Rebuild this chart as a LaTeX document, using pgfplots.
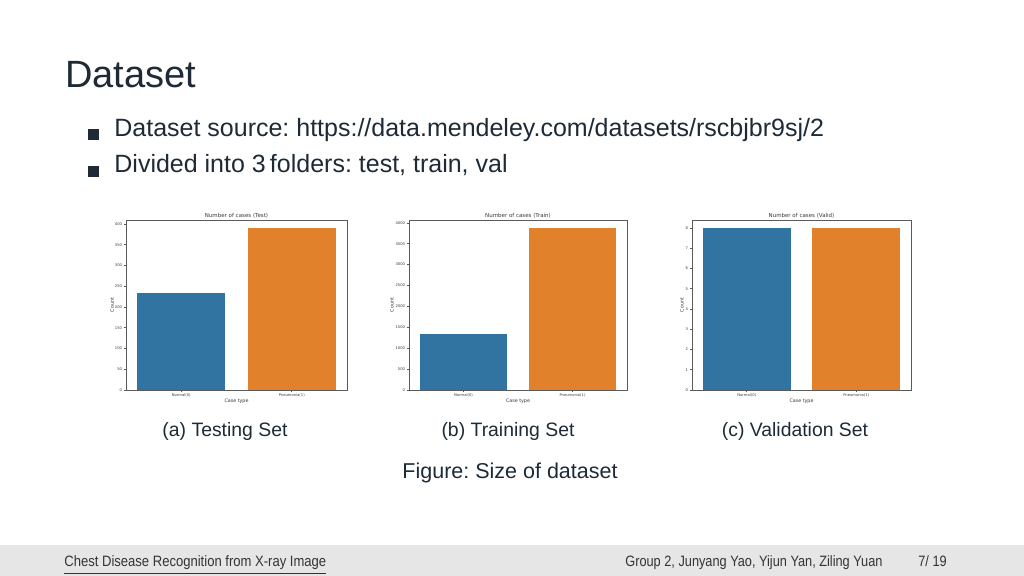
\documentclass[border=0pt]{standalone}
\usepackage{fontspec}
\setmainfont{Liberation Sans}
\newfontfamily\chartfont{DejaVu Sans}
\usepackage{graphicx}
\usepackage{pgfplots}
\pgfplotsset{compat=1.18}

\definecolor{sbblue}{HTML}{3274A1}
\definecolor{sborange}{HTML}{E1812C}
\definecolor{slidetext}{HTML}{1E2B37}
\definecolor{footgray}{HTML}{E6E6E6}
\definecolor{axisgray}{HTML}{5A5A5A}
\definecolor{charttext}{HTML}{3A3A3A}

\newcommand{\fs}[1]{\fontsize{#1}{#1}\selectfont}
\frenchspacing

\pgfplotsset{
  casebars/.style={
    scale only axis, height=85pt,
    ymin=0, xmin=-0.5, xmax=1.5,
    xtick={0,1}, xticklabels={Normal(0),Pneumonia(1)},
    axis line style={axisgray, line width=0.4pt},
    tick style={axisgray, line width=0.3pt},
    tick align=outside, major tick length=1.2pt,
    xtick pos=left, ytick pos=left,
    ticklabel style={font=\chartfont\fs{1.85}, text=charttext, inner sep=0.6pt},
    /pgf/number format/assume math mode=true,
    /pgf/number format/1000 sep={},
    every axis title shift=0pt,
    title style={font=\chartfont\fs{2.75}, text=charttext, at={(axis description cs:0.5,1)}, anchor=base, yshift=1pt, inner sep=0pt},
    xlabel=Case type, ylabel=Count,
    label style={font=\chartfont\fs{2.4}, text=charttext, inner sep=0pt},
    xlabel style={at={(axis description cs:0.5,-0.065)}, anchor=center},
    ylabel style={anchor=center},
  },
  onebar/.style={ybar, bar width=0.8, bar shift=0pt, draw=none, fill=#1},
}

\begin{document}
\begin{tikzpicture}
\path[use as bounding box, fill=white] (0,0) rectangle (512pt,-288pt);

\begin{scope}[x=0.5pt, y=-0.5pt]
  % footer bar
  \fill[footgray] (0,545) rectangle (1024,576);
  % heading and bullets
  \node[anchor=base west, inner sep=0, text=slidetext] at (65,88) {\fs{19}Dataset};
  \fill[slidetext] (88,129) rectangle (99,140);
  \fill[slidetext] (88,166) rectangle (99,177);
  \node[anchor=base west, inner sep=0, text=slidetext] at (114,137)
    {\fs{12.5}Dataset source: https://data.mendeley.com/datasets/rscbjbr9sj/2};
  \node[anchor=base west, inner sep=0, text=slidetext] at (114,173)
    {\fs{12.5}Divided into 3\,folders: test, train, val};
  % captions
  \node[anchor=base, inner sep=0, text=slidetext] at (225,437) {\fs{9.7}(a) Testing Set};
  \node[anchor=base, inner sep=0, text=slidetext] at (508,437) {\fs{9.7}(b) Training Set};
  \node[anchor=base, inner sep=0, text=slidetext] at (795,437) {\fs{9.7}(c) Validation Set};
  \node[anchor=base, inner sep=0, text=slidetext] at (510,479) {\fs{10.75}Figure: Size of dataset};
  % footer text
  \node[anchor=base west, inner sep=0, text=black!80] at (64,567)
    {\fs{7.5}\scalebox{0.87}[1]{\underline{Chest Disease Recognition from X-ray Image}}};
  \node[anchor=base west, inner sep=0, text=black!80] at (625,567)
    {\fs{7.5}\scalebox{0.85}[1]{Group 2, Junyang Yao, Yijun Yan, Ziling Yuan}};
  \node[anchor=base west, inner sep=0, text=black!80] at (918,567)
    {\fs{7.5}\scalebox{0.85}[1]{7/ 19}};
\end{scope}

% (a) test
\begin{axis}[casebars, at={(63pt,-195pt)}, anchor=south west, width=110.5pt,
    ymax=409.5, ytick={0,50,...,400},
    title={Number of cases (Test)},
    ylabel style={at={(axis description cs:-0.063,0.5)}}]
\addplot[onebar=sbblue] coordinates {(0,234)};
\addplot[onebar=sborange] coordinates {(1,390)};
\end{axis}

% (b) train
\begin{axis}[casebars, at={(204.5pt,-195pt)}, anchor=south west, width=109pt,
    ymax=4068.75, ytick={0,500,...,4000},
    title={Number of cases (Train)},
    ylabel style={at={(axis description cs:-0.078,0.5)}}]
\addplot[onebar=sbblue] coordinates {(0,1341)};
\addplot[onebar=sborange] coordinates {(1,3875)};
\end{axis}

% (c) validation
\begin{axis}[casebars, at={(346pt,-195pt)}, anchor=south west, width=109.5pt,
    ymax=8.4, ytick={0,1,...,8},
    title={Number of cases (Valid)},
    ylabel style={at={(axis description cs:-0.046,0.5)}}]
\addplot[onebar=sbblue] coordinates {(0,8)};
\addplot[onebar=sborange] coordinates {(1,8)};
\end{axis}
\end{tikzpicture}
\end{document}
